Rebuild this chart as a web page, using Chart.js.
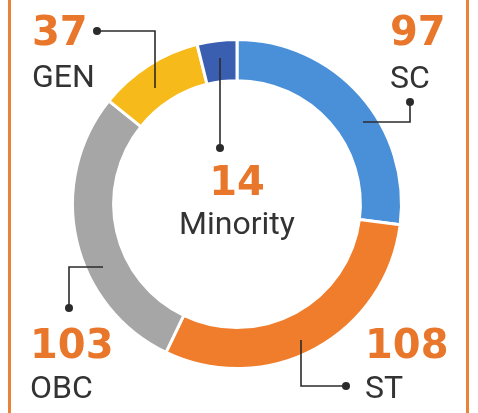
<!DOCTYPE html>
<html>
<head>
<meta charset="utf-8">
<script src="https://cdn.jsdelivr.net/npm/chart.js@4/dist/chart.umd.min.js"></script>
<style>
  html, body { margin: 0; padding: 0; background: #fff; }
  #wrap { position: relative; width: 478px; height: 413px; }
  #wrap:before, #wrap:after {
    content: ""; position: absolute; top: 0; bottom: 0; width: 3px; background: #e8843a;
  }
  #wrap:before { left: 8px; }
  #wrap:after { left: 466px; }
</style>
</head>
<body>
<div id="wrap"><canvas id="seatChart" width="478" height="413"></canvas></div>
<script>
// categories and values, clockwise from the top
var categories = ["SC", "ST", "OBC", "GEN", "Minority"];
var seats = [97, 108, 103, 37, 14];
var sliceColors = ["#4a90d9", "#ef7d2b", "#a6a6a6", "#f6bb1a", "#3b5fb0"];

// where each label sits, and its leader line (dot first)
var labelPos = [
  { x: 390, numY: 45, nameY: 88, align: "left", leader: [[410, 102], [410, 122], [363, 122]] },
  { x: 365, numY: 358, nameY: 398, align: "left", leader: [[346, 386], [301, 386], [301, 340]] },
  { x: 30, numY: 358, nameY: 398, align: "left", leader: [[69, 308], [69, 267], [103, 267]] },
  { x: 32, numY: 45, nameY: 87, align: "left", leader: [[97, 31], [155, 31], [155, 88]] },
  { x: 237, numY: 195, nameY: 234, align: "center", leader: [[220, 148], [220, 58]] },
];

var labelPlugin = {
  id: "seatLabels",
  afterDraw: function (chart) {
    var ctx = chart.ctx;
    ctx.save();
    labelPos.forEach(function (p, i) {
      // leader line
      ctx.strokeStyle = "#2b2b2b";
      ctx.lineWidth = 1.6;
      ctx.beginPath();
      ctx.moveTo(p.leader[0][0], p.leader[0][1]);
      for (var k = 1; k < p.leader.length; k++) ctx.lineTo(p.leader[k][0], p.leader[k][1]);
      ctx.stroke();
      ctx.fillStyle = "#2b2b2b";
      ctx.beginPath();
      ctx.arc(p.leader[0][0], p.leader[0][1], 4, 0, Math.PI * 2);
      ctx.fill();

      ctx.textAlign = p.align;
      ctx.textBaseline = "alphabetic";
      ctx.fillStyle = "#e8762b";
      ctx.font = "bold 40px 'DejaVu Sans'";
      ctx.fillText(String(seats[i]), p.x, p.numY);
      ctx.fillStyle = "#333333";
      ctx.font = "32px Roboto";
      ctx.fillText(categories[i], p.x, p.nameY);
    });
    ctx.restore();
  },
};

var ctx = document.getElementById("seatChart").getContext("2d");
var seatChart = new Chart(ctx, {
  type: "doughnut",
  data: {
    labels: categories,
    datasets: [
      {
        data: seats,
        backgroundColor: sliceColors,
        borderColor: "#ffffff",
        borderWidth: 3,
      },
    ],
  },
  options: {
    responsive: false,
    animation: false,
    cutout: "75%",
    layout: { padding: { left: 71, right: 75, top: 38, bottom: 43 } },
    plugins: {
      legend: { display: false },
      tooltip: { enabled: false },
    },
  },
  plugins: [labelPlugin],
});
</script>
</body>
</html>
